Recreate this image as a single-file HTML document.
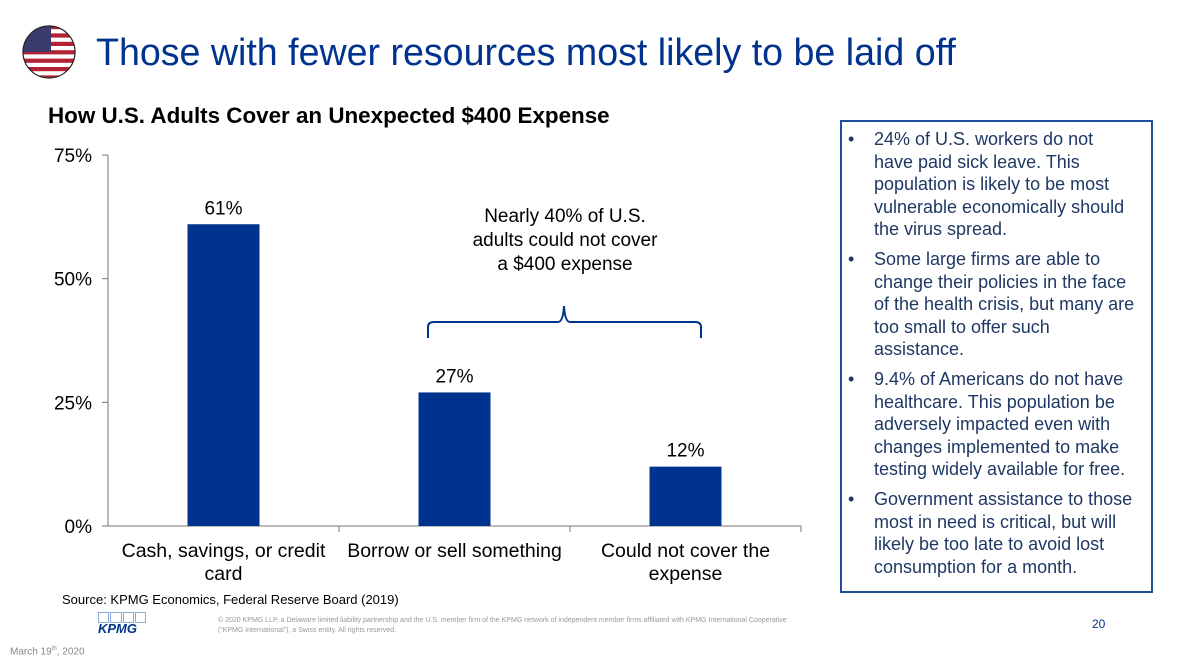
<!DOCTYPE html>
<html><head><meta charset="utf-8"><style>
body{margin:0;width:1200px;height:670px;background:#fff;position:relative;overflow:hidden;font-family:"Liberation Sans",sans-serif}
.abs{position:absolute}
</style></head><body>
<svg class="abs" style="left:22px;top:25px" width="56" height="56">
<defs><clipPath id="c"><circle cx="27" cy="27" r="26"/></clipPath></defs>
<g clip-path="url(#c)">
<rect width="56" height="56" fill="#fff"/>
<g fill="#b22234"><rect y="0" width="56" height="4.2"/><rect y="8.4" width="56" height="4.2"/><rect y="16.8" width="56" height="4.2"/><rect y="25.2" width="56" height="4.2"/><rect y="33.6" width="56" height="4.2"/><rect y="42" width="56" height="4.2"/><rect y="50.4" width="56" height="4.2"/></g>
<rect width="29" height="27" fill="#3c3b6e"/>
</g><circle cx="27" cy="27" r="26" fill="none" stroke="#222" stroke-width="1.2"/></svg>
<div class="abs" style="left:96px;top:31px;font-size:37.6px;color:#00338d">Those with fewer resources most likely to be laid off</div>
<div class="abs" style="left:48px;top:103px;font-size:22.4px;font-weight:bold;color:#000">How U.S. Adults Cover an Unexpected $400 Expense</div>
<svg id="chart" class="abs" style="left:0;top:0" width="820" height="600"></svg>
<div class="abs" style="left:400px;top:205px;width:330px;text-align:center;font-size:19px;line-height:24px;color:#000">Nearly 40% of U.S.<br>adults could not cover<br>a $400 expense</div>
<svg class="abs" style="left:420px;top:300px" width="290" height="45">
<path d="M8 38 L8 27 Q8 22 14 22 L138 22 Q143 22 144 6 Q145 22 150 22 L275 22 Q281 22 281 27 L281 38" fill="none" stroke="#00338d" stroke-width="2"/></svg>
<div class="abs" style="left:62px;top:592px;font-size:13px;color:#000">Source: KPMG Economics, Federal Reserve Board (2019)</div>
<div class="abs" style="left:840px;top:120px;width:313px;height:473px;border:2px solid #1f4e9c;box-sizing:border-box;color:#1f3864;font-size:18px;line-height:22.5px">
<ul style="margin:6px 0 0 0;padding:0 8px 0 32px;list-style:none;width:262px">
<li style="position:relative;margin-bottom:7.5px"><span style="position:absolute;left:-26px">•</span>24% of U.S. workers do not have paid sick leave. This population is likely to be most vulnerable economically should the virus spread.</li>
<li style="position:relative;margin-bottom:7.5px"><span style="position:absolute;left:-26px">•</span>Some large firms are able to change their policies in the face of the health crisis, but many are too small to offer such assistance.</li>
<li style="position:relative;margin-bottom:7.5px"><span style="position:absolute;left:-26px">•</span>9.4% of Americans do not have healthcare. This population be adversely impacted even with changes implemented to make testing widely available for free.</li>
<li style="position:relative"><span style="position:absolute;left:-26px">•</span>Government assistance to those most in need is critical, but will likely be too late to avoid lost consumption for a month.</li>
</ul></div>
<div class="abs" style="left:98px;top:612px;width:48px;height:24px">
<div style="display:flex;gap:1px"><div style="width:11px;height:9px;border:1px solid #8fa8d6"></div><div style="width:11px;height:9px;border:1px solid #8fa8d6"></div><div style="width:11px;height:9px;border:1px solid #8fa8d6"></div><div style="width:11px;height:9px;border:1px solid #8fa8d6"></div></div>
<div style="font-size:13px;font-weight:bold;font-style:italic;color:#00338d;line-height:12px">KPMG</div></div>
<div class="abs" style="left:218px;top:616px;width:590px;font-size:7px;line-height:10px;color:#999">© 2020 KPMG LLP, a Delaware limited liability partnership and the U.S. member firm of the KPMG network of independent member firms affiliated with KPMG International Cooperative (“KPMG International”), a Swiss entity. All rights reserved.</div>
<div class="abs" style="left:1092px;top:617px;font-size:12px;color:#00338d">20</div>
<div class="abs" style="left:10px;top:646px;font-size:10px;color:#888">March 19<sup style="font-size:6px">th</sup>, 2020</div>
<script>
const categories=[["Cash, savings, or credit","card"],["Borrow or sell something"],["Could not cover the","expense"]];
const values=[61,27,12];
const valueLabels=["61%","27%","12%"];
const yTicks=[0,25,50,75];
const yTickLabels=["0%","25%","50%","75%"];
const NS="http://www.w3.org/2000/svg";
const svg=document.getElementById('chart');
const x0=108,x1=801,yTop=155,yBot=526,yMax=75;
const y=v=>yBot-(v/yMax)*(yBot-yTop);
const band=(x1-x0)/categories.length;
const xc=i=>x0+band*(i+0.5);
function mk(t,a){const e=document.createElementNS(NS,t);for(const k in a)e.setAttribute(k,a[k]);svg.appendChild(e);return e;}
let ax=mk('line',{x1:x0,y1:yTop,x2:x0,y2:yBot,stroke:'#777'});


let bx=mk('line',{x1:x0,y1:yBot,x2:x1,y2:yBot,stroke:'#777'});


yTicks.forEach((v,i)=>{
 mk('line',{x1:x0-6,y1:y(v),x2:x0,y2:y(v),stroke:'#777'});
 const t=mk('text',{x:x0-16,y:y(v)+7,'text-anchor':'end','font-size':19,fill:'#000'});
 t.textContent=yTickLabels[i];
 
 
});
for(let i=0;i<=categories.length;i++){if(i>0)mk('line',{x1:x0+band*i,y1:yBot,x2:x0+band*i,y2:yBot+6,stroke:'#777'});}
values.forEach((v,i)=>{
 const r=mk('rect',{x:xc(i)-36,y:y(v),width:72,height:yBot-y(v),fill:'#00338d'});
 
 
 const t=mk('text',{x:xc(i),y:y(v)-10,'text-anchor':'middle','font-size':19,fill:'#000'});
 t.textContent=valueLabels[i];
 
 
 categories[i].forEach((ln,j)=>{
  const c=mk('text',{x:xc(i),y:557+j*23,'text-anchor':'middle','font-size':19.5,fill:'#000'});
  c.textContent=ln;
  
  
 });
});
</script>
</body></html>
